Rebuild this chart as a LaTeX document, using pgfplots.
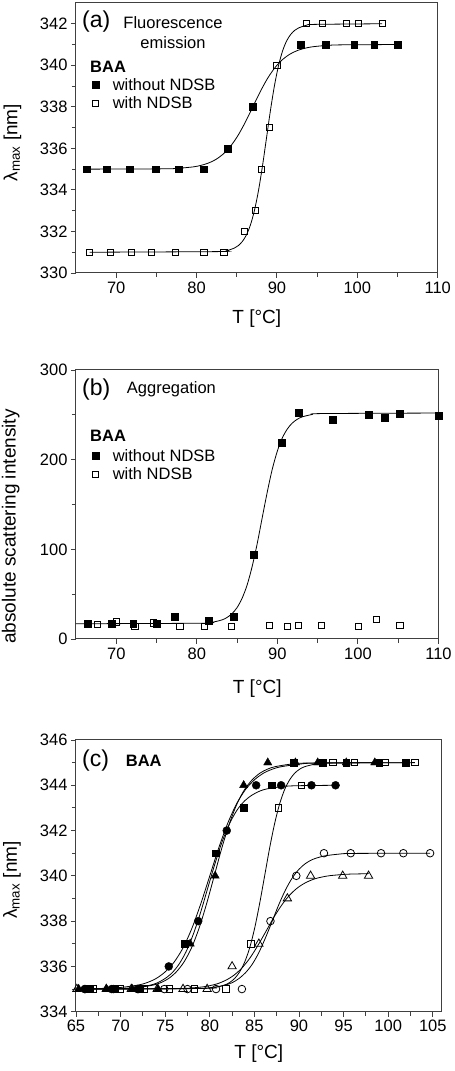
\documentclass[border=0pt]{standalone}
\usepackage{fontspec}
\setmainfont{Liberation Sans}
\usepackage{pgfplots}
\pgfplotsset{compat=1.18}
\pgfplotsset{
  myax/.style={
    scale only axis,
    anchor=south west,
    axis line style={black!75, line width=1pt},
    every tick/.style={black!75, line width=0.9pt},
    tick align=outside,
    tick pos=left,
    major tick length=5pt, minor tick length=4pt,
    minor x tick num=1, minor y tick num=1,
    tick label style={font=\fontsize{16.5}{18}\selectfont},
    label style={font=\fontsize{19}{21}\selectfont},
    /pgf/number format/assume math mode=true,
    legend cell align=left,
    legend image code/.code={\draw[##1] plot coordinates {(0pt,0pt)};},
  },
  mylegend/.style={legend style={at={#1}, anchor=north west, draw=none, fill=none,
      inner sep=0pt, outer sep=0pt, row sep=5pt,
      font=\fontsize{16.5}{19}\selectfont, nodes={inner sep=0pt},
      /tikz/every odd column/.append style={column sep=14pt}}},
  fit/.style={smooth, black, line width=0.8pt, forget plot},
}
\begin{document}
\begin{tikzpicture}
\path[use as bounding box] (0pt,0pt) rectangle (455pt,1071pt);
% ---------------- (a)
\begin{axis}[myax, at={(76pt,798pt)}, width=361.7pt, height=270pt,
  xmin=65, xmax=110, ymin=330, ymax=343,
  xtick={70,80,90,100,110}, ytick={330,332,...,342},
  xlabel={T [°C]}, ylabel={λ\textsubscript{max} [nm]},
  xlabel style={at={(axis description cs:0.5,-0.17)}, anchor=center},
  ylabel style={at={(axis description cs:-0.176,0.483)}, anchor=center},
  mylegend={(axis description cs:0.0442,0.722)}]
\addplot[fit] table {
66.3 335.0
75.84 335.015
77.70 335.04
79.56 335.108
80.49 335.176
81.42 335.284
82.35 335.455
83.28 335.715
84.21 336.094
85.14 336.613
86.07 337.265
87.00 338.0
87.93 338.735
88.86 339.387
89.79 339.906
90.72 340.285
91.65 340.545
92.58 340.716
93.51 340.824
94.44 340.892
96.30 340.960
98.16 340.985
105.0 341.0
};
\addplot[fit] table {
66.7 331.0
82.7 331.03
83.7 331.07
84.7 331.20
85.2 331.32
85.7 331.52
86.2 331.83
86.7 332.31
87.2 333.01
87.7 333.96
88.2 335.15
88.7 336.5
89.2 337.85
89.7 339.04
90.2 339.99
90.7 340.69
91.2 341.17
91.7 341.48
92.2 341.68
92.7 341.80
93.7 341.93
94.7 341.97
103.1 342.0
};
\addplot[only marks, mark=square*, mark size=3.4pt, black] table {
66.3 335
68.8 335
71.7 335
74.9 335
77.8 335
80.9 335
83.9 336
87.0 338
93.0 341
96.1 341
99.6 341
102.1 341
105.0 341
};
\addlegendentry{without NDSB}
\addplot[only marks, mark=square, mark size=3.1pt, black, mark options={line width=0.8pt}] table {
66.7 331
69.3 331
71.9 331
74.4 331
77.4 331
80.9 331
83.4 331
86.0 332
87.3 333
88.1 335
89.1 337
90.0 340
93.7 342
95.7 342
98.6 342
100.1 342
103.1 342
};
\addlegendentry{with NDSB}
\end{axis}
% ---------------- (b)
\begin{axis}[myax, at={(76pt,432pt)}, width=362.5pt, height=269pt,
  xmin=65, xmax=110, ymin=0, ymax=300,
  xtick={70,80,90,100,110}, ytick={0,100,200,300},
  xlabel={T [°C]}, ylabel={absolute scattering intensity},
  xlabel style={at={(axis description cs:0.5,-0.186)}, anchor=center},
  ylabel style={at={(axis description cs:-0.180,0.418)}, anchor=center},
  mylegend={(axis description cs:0.0441,0.706)}]
\addplot[fit] table {
65 17.0
80.6 17.59
81.85 18.57
83.1 21.23
83.73 23.89
84.35 28.14
84.98 34.84
85.6 45.01
86.23 59.86
86.85 80.19
87.48 105.71
88.1 134.5
88.73 163.29
89.35 188.81
89.98 209.14
90.6 223.99
91.23 234.16
91.85 240.86
92.48 245.11
93.1 247.77
94.35 250.43
95.6 251.41
110 252.0
};
\addplot[only marks, mark=square*, mark size=3.4pt, black] table {
66.5 17
69.4 17
72.1 17
75.0 17
77.3 25
81.5 20
84.6 25
87.1 94
90.5 219
92.6 252
96.9 245
101.3 250
103.3 247
105.2 251
110.0 249
};
\addlegendentry{without NDSB}
\addplot[only marks, mark=square, mark size=3.1pt, black, mark options={line width=0.8pt}] table {
67.7 16
70.0 19
72.3 14
74.6 18
77.9 14
80.9 14
84.3 14
89.0 15
91.2 14
92.6 15
95.5 15
100.1 14
102.3 22
105.2 15
};
\addlegendentry{with NDSB}
\end{axis}
% ---------------- (c)
\begin{axis}[myax, at={(76pt,59.3pt)}, width=365.7pt, height=271.7pt,
  xmin=65, xmax=106, ymin=334, ymax=346,
  xtick={65,70,...,105}, ytick={334,336,...,346},
  xlabel={T [°C]}, ylabel={λ\textsubscript{max} [nm]},
  xlabel style={at={(axis description cs:0.5,-0.155)}, anchor=center},
  ylabel style={at={(axis description cs:-0.175,0.485)}, anchor=center}]
\addplot[fit] table {
65.3 335.0
70.3 335.03
72.0 335.07
73.7 335.18
74.55 335.29
75.4 335.47
76.25 335.76
77.1 336.19
77.95 336.82
78.8 337.69
79.65 338.78
80.5 340.0
81.35 341.23
82.2 342.31
83.05 343.18
83.9 343.81
84.75 344.24
85.6 344.53
86.45 344.71
87.3 344.82
89.0 344.93
90.7 344.98
98.5 345.0
};
\addplot[fit] table {
66.0 335.0
69.9 335.02
71.55 335.06
73.2 335.16
74.03 335.26
74.85 335.43
75.68 335.68
76.5 336.07
77.33 336.64
78.15 337.42
78.98 338.40
79.8 339.5
80.63 340.60
81.45 341.58
82.28 342.36
83.1 342.93
83.93 343.32
84.75 343.57
85.58 343.74
86.4 343.84
88.05 343.94
89.7 343.98
94.1 344.0
};
\addplot[fit] table {
66.5 335.0
68 335.03
70 335.07
72 335.18
73 335.29
74 335.47
75 335.76
76 336.19
77 336.82
78 337.69
79 338.78
80 340.0
81 341.23
82 342.31
83 343.18
84 343.81
85 344.24
86 344.53
87 344.71
88 344.82
90 344.93
92 344.98
102 345.0
};
\addplot[fit] table {
66.9 335.0
79.43 335.03
80.55 335.07
81.67 335.18
82.23 335.29
82.79 335.47
83.35 335.76
83.91 336.19
84.47 336.82
85.03 337.69
85.59 338.78
86.15 340.0
86.71 341.23
87.27 342.31
87.83 343.18
88.39 343.81
88.95 344.24
89.51 344.53
90.07 344.71
90.63 344.82
91.75 344.93
92.87 344.98
103.0 345.0
};
\addplot[fit] table {
66.0 335.0
78 335.02
79.5 335.04
81 335.11
81.75 335.18
82.5 335.28
83.25 335.46
84 335.72
84.75 336.09
85.5 336.61
86.25 337.27
87 338.0
87.75 338.74
88.5 339.39
89.25 339.91
90 340.29
90.75 340.55
91.5 340.72
92.25 340.82
93 340.89
94.5 340.96
96 340.99
104.7 341.0
};
\addplot[fit] table {
65.1 335.0
75.5 335.01
77.3 335.03
79.1 335.09
80.0 335.15
80.9 335.24
81.8 335.39
82.7 335.61
83.6 335.93
84.5 336.37
85.4 336.93
86.3 337.55
87.2 338.18
88.1 338.73
89.0 339.17
89.9 339.49
90.8 339.71
91.7 339.86
92.6 339.95
93.5 340.01
95.3 340.07
97.1 340.09
97.8 340.1
};
% markers
\addplot[only marks, mark=triangle*, mark size=4.8pt, black] table {
65.3 335
68.4 335
71.3 335
74.2 335
77.8 337
80.6 340
83.8 344
86.5 345
89.6 345
92.1 345
95.3 345
98.5 345
};
\addplot[only marks, mark=*, mark size=4pt, black] table {
66.0 335
69.0 335
72.0 335
75.4 336
78.7 338
81.9 342
85.2 344
88.0 344
91.4 344
94.1 344
};
\addplot[only marks, mark=square*, mark size=3.4pt, black] table {
66.5 335
69.3 335
72.2 335
77.2 337
80.7 341
83.8 343
86.9 344
89.4 345
92.7 345
95.3 345
99.0 345
102.0 345
};
\addplot[only marks, mark=square, mark size=3.2pt, black, mark options={line width=0.8pt}] table {
66.9 335
69.9 335
72.7 335
75.5 335
78.3 335
81.8 335
84.6 337
87.7 343
90.3 344
93.8 345
96.2 345
99.7 345
103.0 345
};
\addplot[only marks, mark=o, mark size=3.8pt, black, mark options={line width=0.8pt}] table {
66.0 335
69.2 335
71.9 335
74.9 335
77.5 335
80.7 335
83.6 335
86.8 338
89.7 340
92.8 341
95.8 341
99.2 341
101.7 341
104.7 341
};
\addplot[only marks, mark=triangle, mark size=4.8pt, black, mark options={line width=0.8pt}] table {
65.1 335
68.4 335
71.2 335
74.1 335
77.0 335
79.7 335
82.5 336
85.5 337
88.7 339
91.3 340
94.9 340
97.8 340
};
\end{axis}
% ---------------- panel texts
\node[anchor=west, inner sep=0pt, font=\fontsize{23}{25}\selectfont] at (82pt,1049.7pt) {(a)};
\node[anchor=center, inner sep=0pt, align=center, font=\fontsize{16.5}{20}\selectfont] at (173pt,1038.3pt) {Fluorescence\\emission};
\node[anchor=west, inner sep=0pt, font=\fontsize{16.5}{19}\selectfont\bfseries] at (90pt,1004.3pt) {BAA};
\node[anchor=west, inner sep=0pt, font=\fontsize{23}{25}\selectfont] at (82pt,681pt) {(b)};
\node[anchor=west, inner sep=0pt, font=\fontsize{16.5}{19}\selectfont] at (126.7pt,681.7pt) {Aggregation};
\node[anchor=west, inner sep=0pt, font=\fontsize{16.5}{19}\selectfont\bfseries] at (90pt,635.3pt) {BAA};
\node[anchor=west, inner sep=0pt, font=\fontsize{23}{25}\selectfont] at (82pt,310pt) {(c)};
\node[anchor=west, inner sep=0pt, font=\fontsize{16.5}{19}\selectfont\bfseries] at (125.7pt,310pt) {BAA};
\end{tikzpicture}
\end{document}
